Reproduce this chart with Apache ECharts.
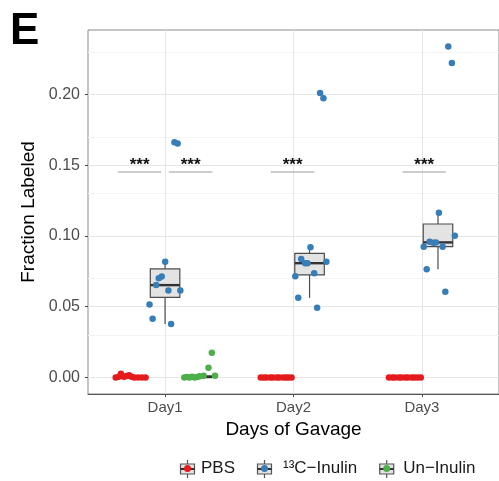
<!DOCTYPE html>
<html>
<head>
<meta charset="utf-8">
<script src="https://cdn.jsdelivr.net/npm/echarts@6/dist/echarts.min.js"></script>
<style>
  html, body { margin: 0; padding: 0; background: #fff; }
  #chart { width: 499px; height: 481px; }
</style>
</head>
<body>
<div id="chart"></div>
<script>
// categories and tick labels
const days = ['Day1', 'Day2', 'Day3'];
const dayPos = [1, 2, 3];
const yTicks = [0, 0.05, 0.10, 0.15, 0.20];
const yMinor = [0.025, 0.075, 0.125, 0.175, 0.225];

const groups = ['PBS', '\u00b9\u00b3C\u2212Inulin', 'Un\u2212Inulin'];
const colors = ['#e41a1c', '#377eb8', '#4daf4a'];

// jittered points [x, fraction]
const pbsPoints = [
  [0.616, 0], [0.640, 0.0005], [0.656, 0.0026], [0.680, 0.0005], [0.700, 0.0010], [0.720, 0.0016],
  [0.740, 0.0005], [0.760, 0], [0.790, 0], [0.820, 0], [0.848, 0],
  [1.745, 0], [1.770, 0], [1.790, 0], [1.820, 0], [1.840, 0], [1.870, 0],
  [1.890, 0], [1.920, 0], [1.940, 0], [1.960, 0], [1.985, 0],
  [2.743, 0], [2.770, 0], [2.790, 0], [2.820, 0], [2.840, 0], [2.870, 0],
  [2.890, 0], [2.920, 0], [2.940, 0], [2.965, 0], [2.991, 0]
];
const c13Points = [
  [1.001, 0.0819], [0.951, 0.0702], [0.974, 0.0714], [0.931, 0.0653], [1.026, 0.0615], [1.119, 0.0615],
  [0.879, 0.0516], [0.903, 0.0415], [1.047, 0.0378], [1.073, 0.1664], [1.098, 0.1655],
  [2.207, 0.2012], [2.233, 0.1974], [2.132, 0.0920], [2.060, 0.0838], [2.091, 0.0808], [2.109, 0.0808],
  [2.256, 0.0819], [2.014, 0.0716], [2.161, 0.0737], [2.037, 0.0563], [2.184, 0.0493],
  [3.205, 0.2340], [3.233, 0.2223], [3.132, 0.1164], [3.256, 0.1002], [3.060, 0.0960], [3.089, 0.0953],
  [3.109, 0.0955], [3.014, 0.0925], [3.161, 0.0925], [3.037, 0.0765], [3.182, 0.0606]
];
const unPoints = [
  [1.150, 0], [1.170, 0.0003], [1.190, 0], [1.210, 0.0005], [1.230, 0], [1.250, 0.0003],
  [1.270, 0.0008], [1.300, 0.0012], [1.338, 0.0068], [1.364, 0.0174], [1.389, 0.0012]
];

// boxes [x, lower whisker, q1, median, q3, upper whisker]
const pbsBoxes = [[0.75, 0, 0, 0, 0.0005, 0.0016], [1.875, 0, 0, 0, 0, 0], [2.875, 0, 0, 0, 0, 0]];
const c13Boxes = [
  [1.000, 0.0378, 0.0566, 0.0653, 0.0768, 0.0819],
  [2.125, 0.0563, 0.0725, 0.0808, 0.0878, 0.0920],
  [3.125, 0.0765, 0.0925, 0.0955, 0.1085, 0.1164]
];
const unBoxes = [[1.25, 0, 0, 0.0003, 0.0012, 0.0016]];
const boxWidth = 0.23;

// significance brackets
const sigStart = [0.634, 1.029, 1.823, 2.849];
const sigEnd = [0.970, 1.369, 2.163, 3.186];
const sigY = [0.1453, 0.1453, 0.1453, 0.1453];
const sigText = ['***', '***', '***', '***'];

const font = '"Liberation Sans", Arial, Helvetica, sans-serif';

var myChart = echarts.init(document.getElementById('chart'), null, { renderer: 'canvas' });

function renderBox(params, api) {
  const x = api.value(0);
  const lo = api.coord([x, api.value(1)]);
  const q1 = api.coord([x, api.value(2)]);
  const md = api.coord([x, api.value(3)]);
  const q3 = api.coord([x, api.value(4)]);
  const hi = api.coord([x, api.value(5)]);
  const w = api.size([boxWidth, 0])[0];
  const edge = '#4d4d4d';
  return {
    type: 'group',
    children: [
      { type: 'line', shape: { x1: lo[0], y1: lo[1], x2: q1[0], y2: q1[1] }, style: { stroke: edge, lineWidth: 1.2 } },
      { type: 'line', shape: { x1: q3[0], y1: q3[1], x2: hi[0], y2: hi[1] }, style: { stroke: edge, lineWidth: 1.2 } },
      { type: 'rect', shape: { x: q3[0] - w / 2, y: q3[1], width: w, height: Math.max(q1[1] - q3[1], 0.5) },
        style: { fill: '#e3e3e3', stroke: edge, lineWidth: 1.2 } },
      { type: 'line', shape: { x1: md[0] - w / 2, y1: md[1], x2: md[0] + w / 2, y2: md[1] }, style: { stroke: '#333', lineWidth: 2.4 } }
    ]
  };
}

function renderSig(params, api) {
  const a = api.coord([api.value(0), api.value(2)]);
  const b = api.coord([api.value(1), api.value(2)]);
  return {
    type: 'group',
    children: [
      { type: 'line', shape: { x1: a[0], y1: a[1], x2: b[0], y2: b[1] }, style: { stroke: '#bdbdbd', lineWidth: 1.5 } },
      { type: 'text', x: (a[0] + b[0]) / 2, y: a[1] - 7,
        style: { text: sigText[params.dataIndex], fill: '#111', font: 'bold 17px ' + font, align: 'center', verticalAlign: 'middle' } }
    ]
  };
}

const majorLine = { color: '#e6e6e6', width: 1, type: 'solid' };
const minorLine = { color: '#f3f3f3', width: 1, type: 'solid' };
const gridMarks = []
  .concat(yMinor.map(v => ({ yAxis: v, lineStyle: minorLine })))
  .concat(yTicks.map(v => ({ yAxis: v, lineStyle: majorLine })))
  .concat(dayPos.map(v => ({ xAxis: v, lineStyle: majorLine })));

// legend keys: box glyph drawn behind legend dots
const keyCenters = [187.5, 264.5, 386.7];
const keyPad = [5, 10, 8];
const keyY = 469;
const keyGraphics = [];
keyCenters.forEach(function (cx) {
  keyGraphics.push(
    { type: 'line', shape: { x1: cx, y1: keyY - 9, x2: cx, y2: keyY + 9 }, style: { stroke: '#555', lineWidth: 1.2 }, z: 0 },
    { type: 'rect', shape: { x: cx - 7, y: keyY - 5, width: 14, height: 10 }, style: { fill: '#e3e3e3', stroke: '#555', lineWidth: 1.2 }, z: 0 },
    { type: 'line', shape: { x1: cx - 7, y1: keyY, x2: cx + 7, y2: keyY }, style: { stroke: '#333', lineWidth: 2 }, z: 0 }
  );
});

function legendFor(i) {
  return {
    data: [groups[i]],
    left: keyCenters[i] - 3.5,
    top: 460,
    orient: 'horizontal',
    icon: 'circle',
    itemWidth: 7,
    itemHeight: 7,
    padding: 0,
    selectedMode: false,
    textStyle: { fontFamily: font, fontSize: 17, color: '#1a1a1a', padding: [0, 0, 0, keyPad[i]] }
  };
}

const option = {
  animation: false,
  backgroundColor: '#fff',
  title: {
    text: 'E', left: 10, top: 10, padding: 0,
    textStyle: { fontFamily: font, fontSize: 44, fontWeight: 'bold', color: '#000' }
  },
  legend: [legendFor(0), legendFor(1), legendFor(2)],
  graphic: keyGraphics,
  grid: {
    left: 88, right: -3, top: 30, bottom: 87,
    show: true, borderColor: '#8a8a8a', borderWidth: 1, containLabel: false
  },
  xAxis: {
    type: 'value', min: 0.4, max: 3.6,
    name: 'Days of Gavage', nameLocation: 'middle', nameGap: 25,
    nameTextStyle: { fontFamily: font, fontSize: 19, color: '#000' },
    axisLine: { show: true, onZero: false, lineStyle: { color: '#555', width: 1 } },
    axisTick: { show: true, length: 3, customValues: dayPos, lineStyle: { color: '#444' } },
    axisLabel: {
      customValues: dayPos, margin: 6,
      formatter: function (v) { return days[Math.round(v) - 1]; },
      fontFamily: font, fontSize: 15, color: '#4d4d4d'
    },
    splitLine: { show: false }
  },
  yAxis: {
    type: 'value', min: -0.0117, max: 0.2457,
    name: 'Fraction Labeled', nameLocation: 'middle', nameGap: 41,
    nameTextStyle: { fontFamily: font, fontSize: 19, color: '#000' },
    axisLine: { show: false, onZero: false },
    axisTick: { show: true, length: 3, customValues: yTicks, lineStyle: { color: '#444' } },
    axisLabel: {
      customValues: yTicks, margin: 8,
      formatter: function (v) { return v.toFixed(2); },
      fontFamily: font, fontSize: 16, color: '#4d4d4d'
    },
    splitLine: { show: false }
  },
  series: [
    {
      name: 'grid', type: 'line', data: [], z: 0, silent: true,
      markLine: { silent: true, z: 0, symbol: 'none', label: { show: false }, data: gridMarks, animation: false }
    },
    { name: 'PBS box', type: 'custom', renderItem: renderBox, data: pbsBoxes, z: 1, silent: true },
    { name: '13C box', type: 'custom', renderItem: renderBox, data: c13Boxes, z: 1, silent: true },
    { name: 'Un box', type: 'custom', renderItem: renderBox, data: unBoxes, z: 1, silent: true },
    { name: groups[0], type: 'scatter', data: pbsPoints, symbolSize: 6.5, itemStyle: { color: colors[0], opacity: 1 }, zlevel: 1, z: 3 },
    { name: groups[1], type: 'scatter', data: c13Points, symbolSize: 6.5, itemStyle: { color: colors[1], opacity: 1 }, zlevel: 1, z: 3 },
    { name: groups[2], type: 'scatter', data: unPoints, symbolSize: 6.5, itemStyle: { color: colors[2], opacity: 1 }, zlevel: 1, z: 3 },
    {
      name: 'signif', type: 'custom', renderItem: renderSig, z: 2, silent: true,
      data: sigStart.map(function (s, i) { return [s, sigEnd[i], sigY[i]]; })
    }
  ]
};

myChart.setOption(option);
</script>
</body>
</html>
